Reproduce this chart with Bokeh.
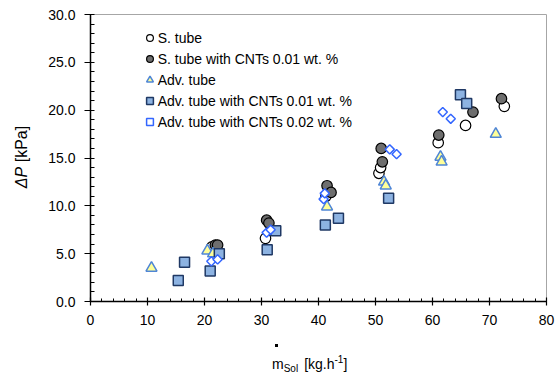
import numpy as np
from bokeh.plotting import figure
from bokeh.models import Range1d, Legend, LegendItem, NumeralTickFormatter, FixedTicker, Div
from bokeh.layouts import row, column
from bokeh.embed import file_html
from bokeh.resources import INLINE

# ---- data ----
s_tube_x = [21.3, 30.7, 41.3, 50.6, 50.9, 61.0, 65.8, 72.6]
s_tube_y = [5.7, 6.6, 11.0, 13.4, 14.0, 16.6, 18.4, 20.4]

s_cnt_x = [21.9, 22.3, 30.9, 31.3, 41.5, 42.2, 51.0, 51.2, 61.1, 67.1, 72.1]
s_cnt_y = [5.9, 5.9, 8.5, 8.2, 12.1, 11.4, 16.0, 14.6, 17.4, 19.8, 21.2]

adv_x = [10.7, 20.5, 21.5, 41.5, 51.5, 51.8, 61.4, 61.6, 71.1]
adv_y = [3.5, 5.3, 5.0, 9.9, 12.5, 12.1, 15.1, 14.6, 17.5]

adv1_x = [15.4, 16.5, 21.0, 22.6, 31.0, 32.5, 41.2, 43.5, 52.3, 64.9, 66.0]
adv1_y = [2.2, 4.1, 3.2, 5.0, 5.4, 7.4, 8.0, 8.7, 10.8, 21.6, 20.7]

adv2_x = [21.2, 22.3, 30.9, 31.6, 40.9, 41.1, 52.5, 53.7, 61.8, 63.2]
adv2_y = [4.2, 4.4, 7.2, 7.5, 10.7, 11.3, 15.9, 15.4, 19.8, 19.1]

series_names = ["S. tube", "S. tube with CNTs 0.01 wt. %", "Adv. tube",
                "Adv. tube with CNTs 0.01 wt. %", "Adv. tube with CNTs 0.02 wt. %"]
x_ticks = [0, 10, 20, 30, 40, 50, 60, 70, 80]
y_ticks = [0, 5, 10, 15, 20, 25, 30]

FONT = "Liberation Sans"
LEFT_W = 30      # width of the y-label strip
BOTTOM_H = 36    # height of the x-label strip

p = figure(width=555 - LEFT_W, height=376 - BOTTOM_H, output_backend="svg",
           toolbar_location=None,
           x_range=Range1d(0, 80), y_range=Range1d(0, 30),
           frame_width=456, frame_height=287,
           min_border_left=90 - LEFT_W, min_border_right=9, min_border_top=14,
           min_border_bottom=376 - BOTTOM_H - 14 - 287)
p.xgrid.visible = False
p.ygrid.visible = False
p.outline_line_color = "#a6a6a6"
p.outline_line_width = 1
p.background_fill_color = "white"
p.border_fill_color = "white"

# axes
p.xaxis.ticker = FixedTicker(ticks=x_ticks, minor_ticks=list(np.arange(0, 81, 2)))
p.yaxis.ticker = FixedTicker(ticks=y_ticks, minor_ticks=list(np.arange(0, 31, 1)))
p.yaxis.formatter = NumeralTickFormatter(format="0.0")
for ax in (p.xaxis, p.yaxis):
    ax.axis_line_color = "black"
    ax.axis_line_width = 1.5
    ax.major_tick_line_color = "black"
    ax.minor_tick_line_color = "black"
    ax.major_tick_line_width = 1.2
    ax.minor_tick_line_width = 1
    ax.major_label_text_font = FONT
    ax.major_label_text_font_size = "14px"
    ax.major_label_text_color = "black"
p.yaxis.major_tick_out = 6
p.yaxis.major_tick_in = 2
p.yaxis.minor_tick_out = 0
p.yaxis.minor_tick_in = 4
p.yaxis.major_label_standoff = 9
p.xaxis.major_tick_out = 4
p.xaxis.major_tick_in = 4
p.xaxis.minor_tick_out = 0
p.xaxis.minor_tick_in = 3
p.xaxis.major_label_standoff = 9

# data glyphs
r1 = p.scatter(s_tube_x, s_tube_y, marker="circle", size=10.5, fill_color="white",
               line_color="black", line_width=1.2)
r2 = p.scatter(s_cnt_x, s_cnt_y, marker="circle", size=10.5, fill_color="#6e6e6e",
               line_color="black", line_width=1.2)
r3 = p.scatter(adv_x, adv_y, marker="triangle", size=11, fill_color="#ffff99",
               line_color="#4f86d6", line_width=1.5)
r4 = p.scatter(adv1_x, adv1_y, marker="square", size=10, fill_color="#8db3e2",
               line_color="#1f3864", line_width=1.5)
r5 = p.scatter(adv2_x, adv2_y, marker="square", angle=np.pi / 4, size=6.5,
               fill_color="white", line_color="#3366ff", line_width=1.5)

legend = Legend(items=[LegendItem(label=n, renderers=[r]) for n, r in
                       zip(series_names, [r1, r2, r3, r4, r5])],
                location=(50.7, 168.8), orientation="vertical",
                glyph_width=17, glyph_height=21, label_height=21, spacing=0,
                padding=0, margin=0, label_standoff=0,
                label_text_font=FONT, label_text_font_size="14px",
                label_text_color="black",
                border_line_color=None, background_fill_alpha=0)
p.add_layout(legend, "center")

# y axis label strip: "ΔP [kPa]" (ΔP italic), rotated
ylab = Div(width=LEFT_W, height=376, margin=0,
           text=('<div style="position:absolute;left:0;top:0;width:%dpx;height:376px;">'
                 '<div style="position:absolute;left:22px;top:157px;'
                 'transform:translate(-50%%,-50%%) rotate(-90deg);white-space:nowrap;'
                 'font-family:\'Liberation Sans\';font-size:16px;color:black;line-height:1;">'
                 '<i>&Delta;P</i> [kPa]</div></div>') % LEFT_W)

# x axis label strip: m-dot with subscript Sol, [kg.h^-1]
xlab = Div(width=555 - LEFT_W, height=BOTTOM_H, margin=0,
           text=('<div style="position:absolute;left:0;top:0;width:%dpx;height:%dpx;">'
                 '<div style="position:absolute;left:245px;top:4px;width:3px;height:3px;'
                 'background:black;"></div>'
                 '<div style="position:absolute;left:242px;top:17px;white-space:nowrap;'
                 'font-family:\'Liberation Sans\';font-size:14px;color:black;line-height:1;">'
                 'm<span style="font-size:10px;position:relative;top:3px;">Sol</span>'
                 '<span style="margin-left:6px;">[kg.h</span>'
                 '<span style="font-size:10px;position:relative;top:-6px;">-1</span>]'
                 '</div></div>') % (555 - LEFT_W, BOTTOM_H))

layout = row(ylab, column(p, xlab), spacing=0)
open("out.html", "w").write(file_html(layout, INLINE))
